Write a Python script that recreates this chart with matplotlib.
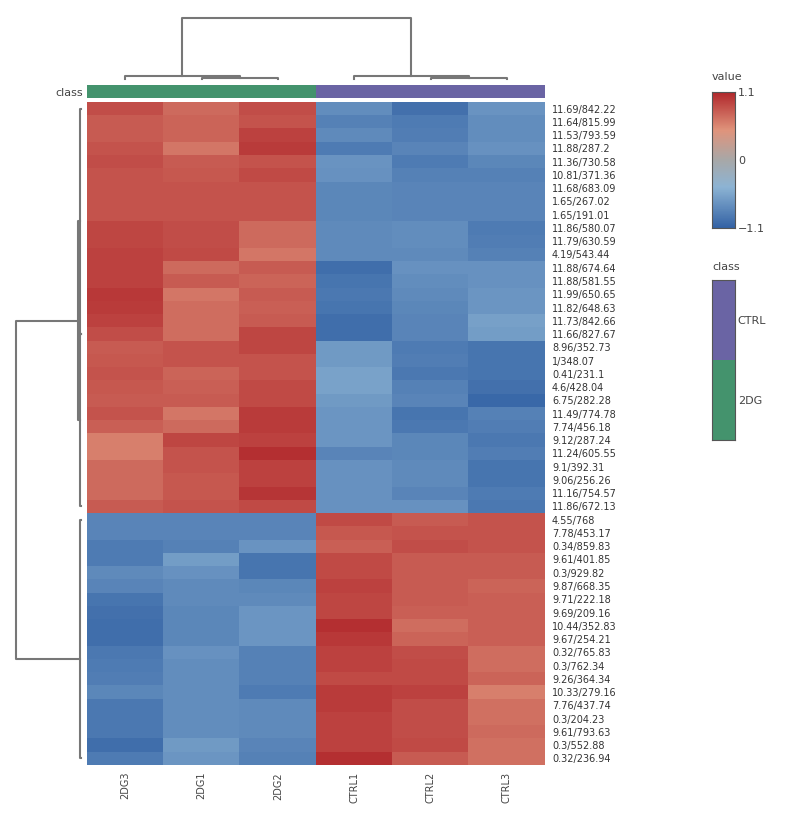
import matplotlib
matplotlib.use("Agg")
import matplotlib.pyplot as plt
import numpy as np
from matplotlib.colors import LinearSegmentedColormap, ListedColormap

columns = ["2DG3", "2DG1", "2DG2", "CTRL1", "CTRL2", "CTRL3"]
col_class = ["2DG", "2DG", "2DG", "CTRL", "CTRL", "CTRL"]
rows = ["11.69/842.22","11.64/815.99","11.53/793.59","11.88/287.2","11.36/730.58","10.81/371.36",
        "11.68/683.09","1.65/267.02","1.65/191.01","11.86/580.07","11.79/630.59","4.19/543.44",
        "11.88/674.64","11.88/581.55","11.99/650.65","11.82/648.63","11.73/842.66","11.66/827.67",
        "8.96/352.73","1/348.07","0.41/231.1","4.6/428.04","6.75/282.28","11.49/774.78",
        "7.74/456.18","9.12/287.24","11.24/605.55","9.1/392.31","9.06/256.26","11.16/754.57",
        "11.86/672.13",
        "4.55/768","7.78/453.17","0.34/859.83","9.61/401.85","0.3/929.82","9.87/668.35",
        "9.71/222.18","9.69/209.16","10.44/352.83","9.67/254.21","0.32/765.83","0.3/762.34",
        "9.26/364.34","10.33/279.16","7.76/437.74","0.3/204.23","9.61/793.63","0.3/552.88",
        "0.32/236.94"]
values = [
[.88,.72,.88,-.75,-.98,-.7],[.8,.75,.85,-.85,-.9,-.75],[.8,.75,.95,-.78,-.88,-.75],
[.85,.65,.98,-.9,-.82,-.72],[.88,.8,.85,-.7,-.9,-.8],[.85,.82,.9,-.72,-.85,-.85],
[.85,.85,.85,-.8,-.82,-.82],[.85,.85,.85,-.8,-.82,-.82],[.85,.85,.85,-.8,-.82,-.82],
[.92,.88,.72,-.78,-.75,-.9],[.92,.88,.72,-.78,-.75,-.88],[.95,.9,.65,-.78,-.78,-.85],
[.95,.72,.8,-1.0,-.72,-.72],[.95,.8,.75,-.95,-.75,-.72],[1.0,.65,.8,-.92,-.78,-.68],
[.98,.7,.78,-.95,-.8,-.68],[.95,.7,.8,-1.0,-.82,-.6],[.88,.7,.92,-1.0,-.82,-.62],
[.8,.85,.92,-.65,-.9,-.95],[.82,.85,.85,-.65,-.88,-.95],[.85,.75,.85,-.58,-.92,-.95],
[.82,.78,.9,-.58,-.85,-.98],[.8,.8,.9,-.65,-.82,-1.05],[.85,.65,.98,-.68,-.95,-.85],
[.78,.72,.98,-.68,-.92,-.88],[.6,.92,.95,-.68,-.8,-.92],[.6,.85,1.05,-.82,-.8,-.88],
[.72,.85,.95,-.72,-.78,-.95],[.72,.82,.95,-.72,-.78,-.95],[.72,.82,1.02,-.72,-.82,-.9],
[.8,.85,.9,-.72,-.72,-.92],
[-.82,-.82,-.82,.9,.8,.85],[-.82,-.82,-.82,.82,.85,.85],[-.9,-.85,-.7,.78,.88,.85],
[-.9,-.62,-.95,.9,.8,.8],[-.78,-.72,-.95,.9,.8,.8],[-.82,-.78,-.8,.95,.8,.75],
[-.95,-.78,-.78,.92,.8,.78],[-.98,-.8,-.68,.92,.78,.78],[-1.0,-.8,-.68,1.05,.7,.78],
[-1.0,-.8,-.68,1.0,.75,.78],[-.92,-.72,-.85,.95,.88,.7],[-.9,-.75,-.85,.95,.9,.7],
[-.88,-.75,-.85,.9,.9,.75],[-.8,-.75,-.9,.98,.95,.6],[-.92,-.75,-.78,.98,.88,.68],
[-.92,-.75,-.78,.95,.88,.68],[-.92,-.75,-.78,.95,.88,.72],[-1.0,-.65,-.82,.95,.9,.68],
[-.9,-.68,-.85,1.05,.8,.68]]
n_top = 31

cmap = LinearSegmentedColormap.from_list("c", [(0,"#3463a5"),(0.3,"#8db4d4"),(0.5,"#a8a8a8"),(0.72,"#e0947c"),(1,"#b1282c")])
class_colors = {"2DG": "#44936d", "CTRL": "#6a64a4"}
W, H = 790, 816
fig = plt.figure(figsize=(W/100, H/100), dpi=100)
def ax_px(x0, y0, x1, y1):
    return fig.add_axes([x0/W, 1-y1/H, (x1-x0)/W, (y1-y0)/H])

data = np.array(values)
nr = len(rows)
ax = ax_px(87, 102, 545, 765)
ax.imshow(data, cmap=cmap, vmin=-1.1, vmax=1.1, aspect="auto", interpolation="nearest")
ax.set_xticks(range(6)); ax.set_xticklabels(columns, rotation=90, fontsize=7, color="#444")
ax.set_yticks(range(nr)); ax.set_yticklabels(rows, fontsize=7, color="#333")
ax.yaxis.tick_right()
ax.tick_params(length=0, pad=5)
for s in ax.spines.values(): s.set_visible(False)

# class bar
axc = ax_px(87, 85, 545, 98)
axc.imshow([[0 if c == "2DG" else 1 for c in col_class]], cmap=ListedColormap([class_colors["2DG"], class_colors["CTRL"]]),
           aspect="auto", vmin=0, vmax=1)
axc.set_xticks([]); axc.set_yticks([0]); axc.set_yticklabels(["class"], fontsize=8, color="#444")
axc.tick_params(length=0, pad=3)
for s in axc.spines.values(): s.set_visible(False)

lc = "#777"
# column dendrogram
axd = ax_px(87, 10, 545, 85)
axd.set_xlim(-0.5, 5.5); axd.set_ylim(0, 1); axd.axis("off")
def U(x1, x2, y1a, y2a, top):
    axd.plot([x1, x1, x2, x2], [y1a, top, top, y2a], color=lc, lw=1.5)
U(1, 2, 0.08, 0.08, 0.1); U(0, 1.5, 0.08, 0.1, 0.12)
U(4, 5, 0.08, 0.08, 0.1); U(3, 4.5, 0.08, 0.1, 0.12)
U(0.75, 3.75, 0.12, 0.12, 0.9)

# row dendrogram
axr = ax_px(10, 102, 85, 765)
axr.set_ylim(nr-0.5, -0.5); axr.set_xlim(0, 1); axr.axis("off")
def V(y1, y2, x1a, x2a, left):
    axr.plot([x1a, left, left, x2a], [y1, y1, y2, y2], color=lc, lw=1.5)
V(0, 17, 0.95, 0.95, 0.93); V(17, 30, 0.95, 0.95, 0.93)
V(8.5, 23.5, 0.93, 0.93, 0.9)
V(31, 49, 0.95, 0.95, 0.93)
V(16, 41.5, 0.9, 0.93, 0.08)

# colorbar
axcb = ax_px(712, 92, 735, 228)
grad = np.linspace(1.1, -1.1, 200)[:, None]
axcb.imshow(grad, cmap=cmap, vmin=-1.1, vmax=1.1, aspect="auto", extent=[0, 1, -1.1, 1.1])
axcb.set_xticks([]); axcb.yaxis.tick_right()
axcb.set_yticks([1.1, 0, -1.1]); axcb.set_yticklabels(["1.1", "0", "\u22121.1"], fontsize=8, color="#444")
axcb.tick_params(length=0, pad=2)
for s in axcb.spines.values(): s.set_color("#555")
fig.text(712/W, 1-80/H, "value", fontsize=8, color="#444")

# class legend
axl = ax_px(712, 280, 735, 440)
axl.imshow([[1], [0]], cmap=ListedColormap([class_colors["2DG"], class_colors["CTRL"]]), aspect="auto",
           extent=[0, 1, 0, 2])
axl.set_xticks([]); axl.yaxis.tick_right()
axl.set_yticks([1.5, 0.5]); axl.set_yticklabels(["CTRL", "2DG"], fontsize=8, color="#444")
axl.tick_params(length=0, pad=2)
for s in axl.spines.values(): s.set_color("#555")
fig.text(712/W, 1-270/H, "class", fontsize=8, color="#444")

fig.savefig("out.png", dpi=100)
